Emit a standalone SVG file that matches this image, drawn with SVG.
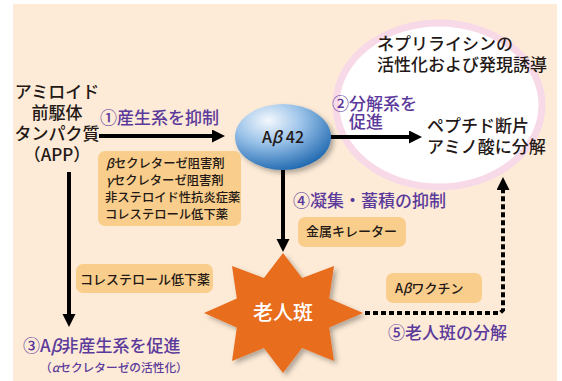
<svg xmlns="http://www.w3.org/2000/svg" width="562" height="381" viewBox="0 0 562 381">
<style>
text{font-family:"Noto Sans CJK JP","Noto Sans",sans-serif;font-weight:500;}
.blk{fill:#231815;font-size:17px;}
.pur{fill:#5B3A9B;font-size:17px;}
.box{fill:#F9CD8B;}
.sm{fill:#231815;font-size:12.3px;}
.md{fill:#231815;font-size:13px;}
.arr{stroke:#000;stroke-width:4;fill:none;}
</style>
<defs>
<marker id="ah" markerUnits="userSpaceOnUse" markerWidth="14" markerHeight="14" refX="0" refY="6.5" orient="auto">
<path d="M0,0 L13,6.5 L0,13 z" fill="#000" stroke="none"/>
</marker>
<radialGradient id="blue" cx="0.35" cy="0.25" r="0.8">
<stop offset="0" stop-color="#F4F8FD"/>
<stop offset="0.45" stop-color="#98C1E8"/>
<stop offset="1" stop-color="#1C66AE"/>
</radialGradient>
<filter id="sh" x="-20%" y="-20%" width="150%" height="150%">
<feDropShadow dx="3" dy="3" stdDeviation="2.5" flood-color="#000" flood-opacity="0.3"/>
</filter>
</defs>
<rect x="0" y="0" width="562" height="381" fill="#fff"/>
<rect x="13" y="4" width="544" height="377" fill="#FDEBD7"/>

<g id="neprilysin">
<ellipse cx="439" cy="105" rx="103" ry="82" fill="#fff" stroke="#F7D9E7" stroke-width="7"/>
<text class="blk" x="377" y="50">ネプリライシンの</text>
<text class="blk" x="377" y="71">活性化および発現誘導</text>
</g>

<g id="app">
<text class="blk" x="57" y="98" text-anchor="middle" font-size="16">アミロイド</text>
<text class="blk" x="57" y="119" text-anchor="middle" font-size="16">前駆体</text>
<text class="blk" x="57" y="140" text-anchor="middle" font-size="16">タンパク質</text>
<text class="blk" x="57" y="161" text-anchor="middle" font-size="16">（APP）</text>
</g>

<g id="connectors">
<line class="arr" x1="99" y1="136" x2="212" y2="136" marker-end="url(#ah)"/>
<line class="arr" x1="330" y1="137" x2="409" y2="137" marker-end="url(#ah)"/>
<line class="arr" x1="69" y1="172" x2="69" y2="314" marker-end="url(#ah)"/>
<line class="arr" x1="283" y1="170" x2="283" y2="239" marker-end="url(#ah)"/>
<path class="arr" d="M365,313 H500 L503,310 V190" stroke-dasharray="5 3" marker-end="url(#ah)"/>
</g>

<g id="abeta42">
<ellipse cx="283" cy="137" rx="48" ry="33" fill="url(#blue)" filter="url(#sh)"/>
<text x="283" y="143" text-anchor="middle" font-size="16" fill="#231815">A<tspan font-style="italic">β</tspan> 42</text>
</g>

<g id="plaque">
<polygon points="283,253 302.1,277.9 334,266 329.2,298.4 363,313 329.2,327.6 334,361 302.1,348.1 283,373 263.9,348.1 232,361 236.8,327.6 204,313 236.8,298.4 232,266 263.9,277.9" fill="#E86D1F" filter="url(#sh)"/>
<text x="283" y="320" text-anchor="middle" font-size="20" fill="#fff" font-weight="bold">老人斑</text>
</g>

<g id="label1">
<text class="pur" x="100" y="124">①産生系を抑制</text>
</g>
<g id="box1">
<rect class="box" x="98" y="151" width="143" height="75" rx="7"/>
<text class="sm" x="106" y="168"><tspan font-style="italic">β</tspan>セクレターゼ阻害剤</text>
<text class="sm" x="106" y="185"><tspan font-style="italic">γ</tspan>セクレターゼ阻害剤</text>
<text class="sm" x="105" y="202">非ステロイド性抗炎症薬</text>
<text class="sm" x="105" y="219">コレステロール低下薬</text>
</g>

<g id="label2">
<text class="pur" x="332" y="110">②分解系を</text>
<text class="pur" x="349" y="128">促進</text>
</g>
<g id="peptide">
<text class="blk" x="427" y="132">ペプチド断片</text>
<text class="blk" x="427" y="153">アミノ酸に分解</text>
</g>

<g id="box2">
<rect class="box" x="76" y="264" width="137" height="29" rx="7"/>
<text class="md" x="80" y="284">コレステロール低下薬</text>
</g>

<g id="label3">
<text class="pur" x="23" y="352" font-size="17.6">③A<tspan font-style="italic">β</tspan>非産生系を促進</text>
<text x="40" y="372" font-size="11.7" fill="#5B3A9B">（<tspan font-style="italic">α</tspan>セクレターゼの活性化）</text>
</g>

<g id="label4">
<text class="pur" x="293" y="207">④凝集・蓄積の抑制</text>
</g>
<g id="box4">
<rect class="box" x="298" y="217" width="108" height="30" rx="7"/>
<text class="md" x="306" y="236">金属キレーター</text>
</g>

<g id="box5">
<rect class="box" x="386" y="273" width="96" height="30" rx="7"/>
<text class="md" x="395" y="293">A<tspan font-style="italic">β</tspan>ワクチン</text>
</g>
<g id="label5">
<text class="pur" x="388" y="339">⑤老人斑の分解</text>
</g>
</svg>
